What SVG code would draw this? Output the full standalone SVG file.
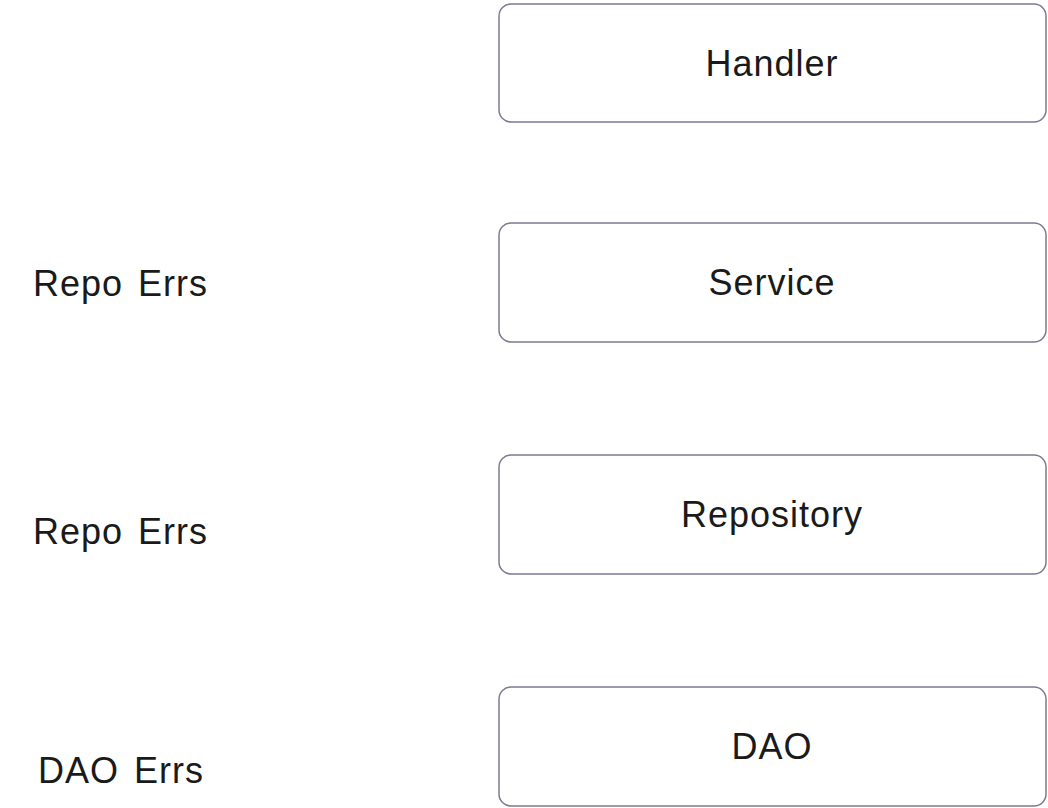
<svg xmlns="http://www.w3.org/2000/svg" width="1048" height="808" viewBox="0 0 1048 808">
<style>
.box{fill:#ffffff;stroke:#7a7c94;stroke-width:1.5}
.t{font-family:"Liberation Sans",Arial,sans-serif;font-size:36px;fill:#1a1a1a;letter-spacing:1px;word-spacing:4px}
.c{text-anchor:middle}
</style>
<rect width="1048" height="808" fill="#ffffff"/>
<g id="connectors"></g>
<g id="handler"><rect class="box" x="499" y="4" width="547" height="118" rx="12"/><text class="t c" x="772" y="76">Handler</text></g>
<g id="service"><rect class="box" x="499" y="223" width="547" height="119" rx="12"/><text class="t c" x="772" y="295">Service</text></g>
<g id="repository"><rect class="box" x="499" y="455" width="547" height="119" rx="12"/><text class="t c" x="772" y="527">Repository</text></g>
<g id="dao"><rect class="box" x="499" y="687" width="547" height="119" rx="12"/><text class="t c" x="772" y="759">DAO</text></g>
<g id="label-repo-errs-1"><text class="t" x="33" y="296">Repo Errs</text></g>
<g id="label-repo-errs-2"><text class="t" x="33" y="544">Repo Errs</text></g>
<g id="label-dao-errs"><text class="t" x="38" y="783">DAO Errs</text></g>
</svg>
